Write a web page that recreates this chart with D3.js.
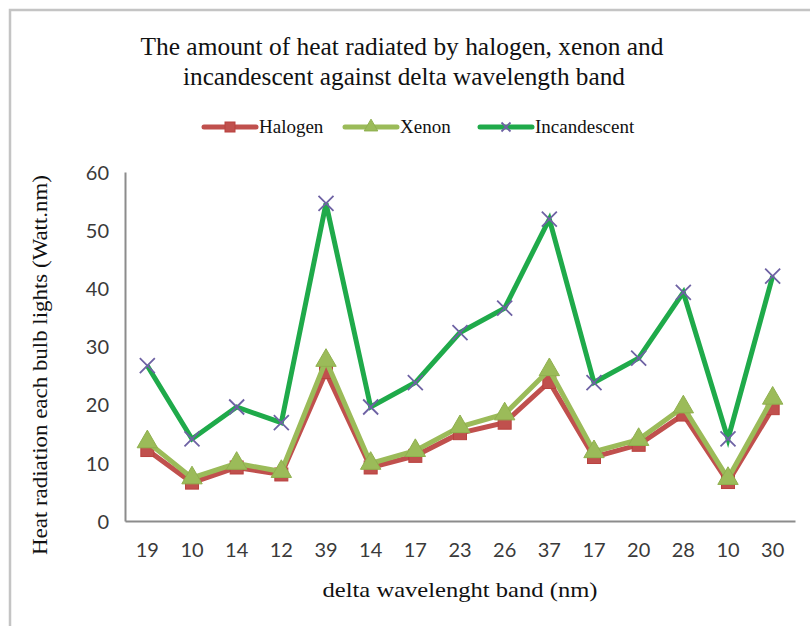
<!DOCTYPE html>
<html>
<head>
<meta charset="utf-8">
<script src="https://cdn.jsdelivr.net/npm/d3@7"></script>
<style>
  body { margin: 0; background: #fff; }
  svg { display: block; }
</style>
</head>
<body>
<svg id="chart" width="810" height="626"></svg>
<script>
// values
const bands = ['19', '10', '14', '12', '39', '14', '17', '23', '26', '37', '17', '20', '28', '10', '30'];
const halogen = [12.2, 6.6, 9.2, 8.0, 25.6, 9.2, 11.2, 15.1, 16.9, 23.9, 11.0, 13.1, 18.3, 6.7, 19.4];
const xenon = [13.6, 7.4, 9.9, 8.5, 27.6, 9.9, 12.1, 16.2, 18.4, 26.0, 11.9, 14.0, 19.6, 7.3, 21.1];
const incandescent = [26.7, 14.1, 19.6, 16.9, 54.6, 19.6, 23.8, 32.4, 36.6, 51.9, 23.8, 28.0, 39.3, 14.1, 42.1];
const yTicks = [0, 10, 20, 30, 40, 50, 60];

const series = [
  {name: 'Halogen', values: halogen, color: '#c0504d', marker: 'square'},
  {name: 'Xenon', values: xenon, color: '#9bbb59', marker: 'triangle'},
  {name: 'Incandescent', values: incandescent, color: '#1faa4a', marker: 'cross'}
];

const svg = d3.select('#chart');
const serif = '"Liberation Serif", "Times New Roman", serif';
const sans = 'Lato, "Open Sans", sans-serif';

// frame
svg.append('path')
  .attr('d', 'M10,626 V10 H810')
  .attr('fill', 'none')
  .attr('stroke', '#c4c4c4')
  .attr('stroke-width', 2.5);

const plot = {left: 125, right: 795, top: 172, bottom: 521};

const x = d3.scaleBand()
  .domain(d3.range(bands.length))
  .range([plot.left, plot.right]);

const y = d3.scaleLinear()
  .domain([0, 60])
  .range([plot.bottom, plot.top]);

// title
const title = svg.append('g')
  .attr('font-family', serif)
  .attr('font-size', 25)
  .attr('fill', '#111')
  .attr('text-anchor', 'middle');
title.append('text').attr('x', 402).attr('y', 55)
  .attr('textLength', 523).attr('lengthAdjust', 'spacingAndGlyphs')
  .text('The amount of heat radiated by halogen, xenon and');
title.append('text').attr('x', 404).attr('y', 85)
  .attr('textLength', 442).attr('lengthAdjust', 'spacingAndGlyphs')
  .text('incandescent against delta wavelength band');

// axes
const yAxis = svg.append('g')
  .attr('transform', `translate(${plot.left},0)`)
  .call(d3.axisLeft(y).tickValues(yTicks).tickSize(0).tickPadding(16));
const xAxis = svg.append('g')
  .attr('transform', `translate(0,${plot.bottom})`)
  .call(d3.axisBottom(x).tickFormat(i => bands[i]).tickSize(0).tickPadding(22));

[yAxis, xAxis].forEach(g => {
  g.select('.domain').attr('stroke', '#8c8c8c').attr('stroke-width', 2);
  g.selectAll('text')
    .attr('font-family', sans)
    .attr('font-size', 20)
    .attr('fill', '#3a3a3a');
});
yAxis.selectAll('text').attr('dy', '0.36em');

// axis titles
svg.append('text')
  .attr('transform', 'translate(47,365) rotate(-90)')
  .attr('text-anchor', 'middle')
  .attr('font-family', serif)
  .attr('font-size', 21)
  .attr('fill', '#111')
  .attr('textLength', 380).attr('lengthAdjust', 'spacingAndGlyphs')
  .text('Heat radiation each bulb lights (Watt.nm)');

svg.append('text')
  .attr('x', 460)
  .attr('y', 597)
  .attr('text-anchor', 'middle')
  .attr('font-family', serif)
  .attr('font-size', 21)
  .attr('fill', '#111')
  .attr('textLength', 275).attr('lengthAdjust', 'spacingAndGlyphs')
  .text('delta wavelenght band (nm)');

function drawMarker(g, type, color, size) {
  if (type === 'square') {
    g.append('rect')
      .attr('x', -size / 2).attr('y', -size / 2)
      .attr('width', size).attr('height', size)
      .attr('fill', color)
      .attr('stroke', '#b9413e').attr('stroke-width', 1);
  } else if (type === 'triangle') {
    g.append('path')
      .attr('d', d3.symbol(d3.symbolTriangle, size * size * 0.8)())
      .attr('fill', color)
      .attr('stroke', '#8fb04e').attr('stroke-width', 1);
  } else {
    const h = size / 2;
    g.append('path')
      .attr('d', `M${-h},${-h}L${h},${h}M${-h},${h}L${h},${-h}`)
      .attr('stroke', '#6e62a4')
      .attr('stroke-width', 1.8)
      .attr('fill', 'none');
  }
}

// lines and markers
const line = d3.line()
  .x((d, i) => x(i) + x.bandwidth() / 2)
  .y(d => y(d));

const markerSize = {square: 13, triangle: 15, cross: 15};

series.forEach(s => {
  svg.append('path')
    .datum(s.values)
    .attr('fill', 'none')
    .attr('stroke', s.color)
    .attr('stroke-width', 5)
    .attr('stroke-linejoin', 'miter')
    .attr('d', line);

  s.values.forEach((v, i) => {
    const g = svg.append('g')
      .attr('transform', `translate(${x(i) + x.bandwidth() / 2},${y(v)})`);
    drawMarker(g, s.marker, s.color, markerSize[s.marker]);
  });
});

// legend
const legendX = [204, 345, 480];
const legend = svg.append('g').attr('transform', 'translate(0,127)');
series.forEach((s, i) => {
  const g = legend.append('g').attr('transform', `translate(${legendX[i]},0)`);
  g.append('line')
    .attr('x1', 0).attr('x2', 52)
    .attr('stroke', s.color)
    .attr('stroke-width', 5)
    .attr('stroke-linecap', 'round');
  const m = g.append('g').attr('transform', 'translate(26,0)');
  drawMarker(m, s.marker, s.color, s.marker === 'cross' ? 9 : 10);
  g.append('text')
    .attr('x', 55)
    .attr('y', 6)
    .attr('font-family', serif)
    .attr('font-size', 19)
    .attr('fill', '#111')
    .text(s.name);
});
</script>
</body>
</html>
